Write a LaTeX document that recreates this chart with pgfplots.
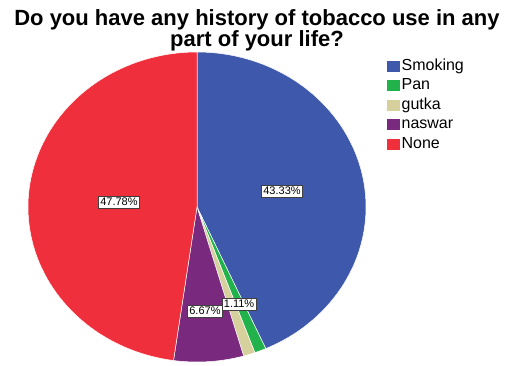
\documentclass[border=0pt]{standalone}
\usepackage{fontspec}
\setmainfont{Liberation Sans}
\usepackage{pgfplots}
\pgfplotsset{compat=1.18}

\definecolor{cSmoking}{HTML}{3E58AC}
\definecolor{cPan}{HTML}{22B24B}
\definecolor{cGutka}{HTML}{D6D09C}
\definecolor{cNaswar}{HTML}{7A2A7E}
\definecolor{cNone}{HTML}{EF2F3B}

% data (percent)
\def\vSmoking{43.33}
\def\vPan{1.11}
\def\vGutka{1.11}
\def\vNaswar{6.67}
\def\vNone{47.78}

\pgfmathsetmacro{\aS}{90}
\pgfmathsetmacro{\aP}{\aS-3.6*\vSmoking}
\pgfmathsetmacro{\aG}{\aP-3.6*\vPan}
\pgfmathsetmacro{\aN}{\aG-3.6*\vGutka}
\pgfmathsetmacro{\aO}{\aN-3.6*\vNaswar}
\pgfmathsetmacro{\aE}{\aO-3.6*\vNone}

\begin{document}
\begin{tikzpicture}
\path (0pt,0pt) rectangle (506pt,365pt);
\node[anchor=base, font=\bfseries\fontsize{22}{22}\selectfont] at (257pt,339pt) {Do you have any history of tobacco use in any};
\node[anchor=base, font=\bfseries\fontsize{22}{22}\selectfont] at (257pt,318pt) {part of your life?};
\begin{axis}[
  at={(197pt,158pt)}, anchor=center,
  scale only axis, width=338pt, height=310pt,
  xmin=-1, xmax=1, ymin=-1, ymax=1,
  hide axis, clip=false, samples=90,
  legend style={at={(1.05,0.99)}, anchor=north west, draw=none, fill=none,
    font=\fontsize{16}{19}\selectfont, row sep=2pt,
    nodes={inner sep=1pt, text height=12pt, text depth=3.5pt}},
  legend cell align=left,
  legend image code/.code={\fill[#1] (0pt,-6pt) rectangle (14pt,6pt);},
]
\addplot[fill=cSmoking, draw=white, line width=0.5pt, domain=\aP:\aS] ({cos(x)},{sin(x)}) -- (0,0) -- cycle;
\addlegendentry{Smoking}
\addplot[fill=cPan, draw=white, line width=0.5pt, domain=\aG:\aP] ({cos(x)},{sin(x)}) -- (0,0) -- cycle;
\addlegendentry{Pan}
\addplot[fill=cGutka, draw=white, line width=0.5pt, domain=\aN:\aG] ({cos(x)},{sin(x)}) -- (0,0) -- cycle;
\addlegendentry{gutka}
\addplot[fill=cNaswar, draw=white, line width=0.5pt, domain=\aO:\aN] ({cos(x)},{sin(x)}) -- (0,0) -- cycle;
\addlegendentry{naswar}
\addplot[fill=cNone, draw=white, line width=0.5pt, domain=\aE:\aO] ({cos(x)},{sin(x)}) -- (0,0) -- cycle;
\addlegendentry{None}
\tikzset{lbl/.style={draw=black!75, fill=white, inner sep=2pt, line width=0.6pt, font=\fontsize{11}{13}\selectfont}}
\node[lbl] at (axis cs:0.503,0.103) {43.33\%};
\node[lbl] at (axis cs:0.249,-0.626) {1.11\%};
\node[lbl] at (axis cs:0.249,-0.626) {1.11\%};
\node[lbl] at (axis cs:0.047,-0.671) {6.67\%};
\node[lbl] at (axis cs:-0.462,0.032) {47.78\%};
\end{axis}
\end{tikzpicture}
\end{document}
